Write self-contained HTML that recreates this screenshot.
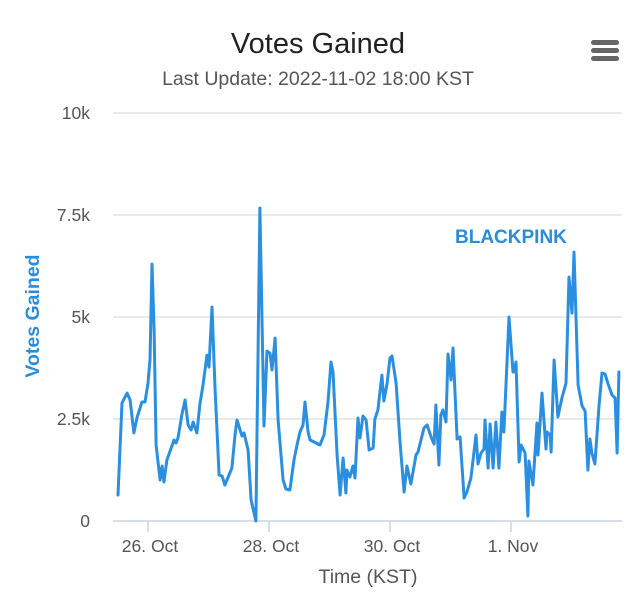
<!DOCTYPE html>
<html><head><meta charset="utf-8"><style>
body{margin:0;background:#fff;font-family:"Liberation Sans",sans-serif;}
svg{display:block}
</style></head><body>
<svg id="chart" width="639" height="614">
<text x="318" y="53" text-anchor="middle" font-size="29" fill="#222">Votes Gained</text>
<text x="318" y="85" text-anchor="middle" font-size="19.5" fill="#555">Last Update: 2022-11-02 18:00 KST</text>
<g fill="#666">
<rect x="591" y="40" width="28" height="5" rx="2.5"/><rect x="591" y="48" width="28" height="5" rx="2.5"/><rect x="591" y="56" width="28" height="5" rx="2.5"/>
</g>
<text transform="translate(39,316) rotate(-90)" text-anchor="middle" font-size="19.5" font-weight="bold" fill="#2b8cd8">Votes Gained</text>
<text x="368" y="583" text-anchor="middle" font-size="19.5" fill="#555">Time (KST)</text>
<text x="455" y="243" font-size="19" font-weight="bold" fill="#2b8cd8">BLACKPINK</text>
<g id="grid"></g><g id="xaxis"></g><g id="series"></g>
</svg>
<script>
const yTicks=[0,2500,5000,7500,10000];
const yTickLabels=["0","2.5k","5k","7.5k","10k"];
const xTicks=[0,48,96,144];
const xTickLabels=["26. Oct","28. Oct","30. Oct","1. Nov"];
const hours=[-11.9,-10.3,-8.3,-7.1,-5.6,-4.4,-2.4,-1.2,0,0.8,1.6,2.4,3.2,4.8,5.6,6.3,7.5,10.3,11.1,11.9,13.5,14.7,15.9,17.1,17.9,19.4,20.6,21.8,23.4,24.2,25.4,26.6,28.2,29.4,30.5,33.3,34.5,35.3,37.3,38.1,39.7,40.9,42.8,44.4,46.0,47.2,48.4,49.2,50.4,51.6,53.6,54.7,56.3,57.9,59.1,60.3,61.5,62.3,63.5,64.3,68.2,69.8,71.4,72.6,73.4,75.0,76.2,77.4,78.5,78.9,80.1,81.3,82.1,83.3,84.1,85.3,86.5,87.7,89.3,90.0,91.2,92.8,93.6,94.8,96.0,96.8,98.4,100.0,101.6,102.7,104.3,106.3,107.1,108.3,109.5,110.7,112.3,113.5,114.2,115.4,116.2,117.0,118.2,119.0,120.2,121.0,122.6,123.8,125.4,126.5,128.1,130.1,130.9,132.1,133.3,133.7,134.9,135.7,136.9,138.0,139.2,140.4,141.2,143.2,144.8,145.2,146.0,147.2,148.0,149.6,150.7,151.1,152.7,154.3,154.7,156.3,157.9,158.3,159.5,159.9,161.1,162.6,164.2,165.8,167.0,168.2,169.0,170.6,172.2,173.4,174.5,175.3,176.1,177.3,178.9,180.1,181.3,182.5,184.1,185.3,186.1,186.8];
const votes=[637,2891,3136,2965,2156,2524,2916,2916,3381,3945,6297,4680,1862,1005,1348,956,1495,1985,1911,2034,2622,2965,2352,2230,2426,2156,2867,3332,4067,3773,5243,3210,1127,1103,882,1299,2107,2475,2083,2156,1740,515,0,7669,2328,4165,4116,3700,4484,2475,1005,784,760,1495,1862,2181,2352,2916,2181,1985,1862,2107,2916,3896,3651,1617,637,1544,686,1250,1078,1348,1054,2524,2034,2573,2475,1740,1789,2499,2720,3577,2940,3357,3994,4043,3381,1911,711,1348,907,1617,1691,1985,2279,2352,2058,1887,2842,1372,2597,2720,2426,4092,3455,4239,2009,2058,564,711,1054,2107,1397,1666,1764,2475,1299,2377,1299,2426,1299,2671,2181,4998,3651,3651,3896,1446,1862,1666,123,1470,882,2401,1617,3136,1764,2181,2107,1691,3945,2548,3014,3381,5978,5096,6591,3332,2818,2695,1250,2009,1666,1397,2818,3626,3602,3357,3087,3014,1666,3651];
const L=113,R=622,T=113,B=521;
const xs=h=>148+h*60.5/24;
const ys=v=>B-(v/10000)*(B-T);
const NS="http://www.w3.org/2000/svg";
function mk(t,a,p){const e=document.createElementNS(NS,t);for(const k in a)e.setAttribute(k,a[k]);p.appendChild(e);return e;}
const grid=document.getElementById('grid');
yTicks.forEach((v,i)=>{
 if(i>0){const g=mk('line',{x1:L,x2:R,y1:ys(v),y2:ys(v),stroke:'#e3e3e3','stroke-width':1.5},grid);
 
 }
 const t=mk('text',{x:90,y:ys(v)+6,'text-anchor':'end','font-size':17.5,fill:'#555'},grid);
 t.textContent=yTickLabels[i];
 
 
});
const xa=document.getElementById('xaxis');
const ax=mk('line',{x1:L,x2:R,y1:B,y2:B,stroke:'#c8d4e3','stroke-width':1.5},xa);


xTicks.forEach((h,i)=>{
 const tk=mk('line',{x1:xs(h),x2:xs(h),y1:B,y2:B+11,stroke:'#c8d4e3','stroke-width':1.5},xa);
 
 
 const t=mk('text',{x:xs(h)+2,y:552,'text-anchor':'middle','font-size':17.5,fill:'#555'},xa);
 t.textContent=xTickLabels[i];
 
 
});
const pts=hours.map((h,i)=>xs(h).toFixed(1)+','+ys(votes[i]).toFixed(1)).join(' ');
const pl=mk('polyline',{points:pts,fill:'none',stroke:'#2b8fe0','stroke-width':3,'stroke-linejoin':'round','stroke-linecap':'round'},document.getElementById('series'));


</script>
</body></html>
